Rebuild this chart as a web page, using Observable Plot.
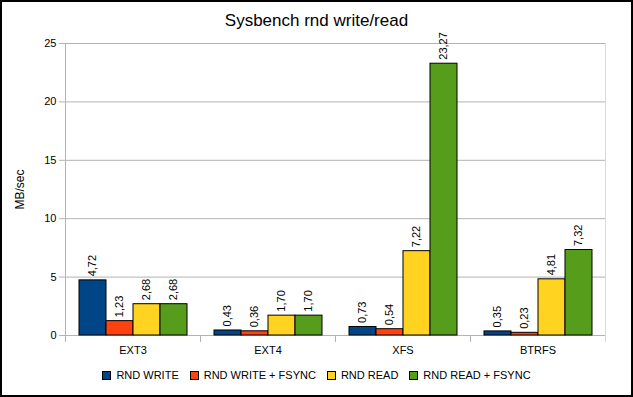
<!DOCTYPE html>
<html>
<head>
<meta charset="utf-8">
<script src="https://cdn.jsdelivr.net/npm/d3@7"></script>
<script src="https://cdn.jsdelivr.net/npm/@observablehq/plot@0.6"></script>
<style>
  body { margin: 0; background: #fff; font-family: "Liberation Sans", Arial, sans-serif; }
  #wrap { position: relative; width: 633px; height: 397px; overflow: hidden; background: #fff; }
  #border { position: absolute; left: 0; top: 0; width: 633px; height: 397px; border: 2px solid #000; box-sizing: border-box; pointer-events: none; }
  #title { position: absolute; left: 0; top: 11px; width: 633px; text-align: center; font-size: 17px; color: #000; }
  #chart { position: absolute; left: 0; top: 32px; }
  #legend { position: absolute; left: 0; top: 369px; width: 633px; display: flex; justify-content: center; gap: 11px; font-size: 11px; color: #000; }
  .item { display: flex; align-items: center; gap: 5px; }
  .sw { width: 9px; height: 9px; border: 1px solid #000; box-sizing: border-box; }
</style>
</head>
<body>
<div id="wrap">
  <div id="title">Sysbench rnd write/read</div>
  <div id="chart"></div>
  <div id="legend"></div>
  <div id="border"></div>
</div>
<script>
const categories = ["EXT3", "EXT4", "XFS", "BTRFS"];
const seriesNames = ["RND WRITE", "RND WRITE + FSYNC", "RND READ", "RND READ + FSYNC"];
const colors = ["#004586", "#ff420e", "#ffd320", "#579d1c"];
const rndWrite = [4.72, 0.43, 0.73, 0.35];
const rndWriteFsync = [1.23, 0.36, 0.54, 0.23];
const rndRead = [2.68, 1.70, 7.22, 4.81];
const rndReadFsync = [2.68, 1.70, 23.27, 7.32];
const yTicks = [0, 5, 10, 15, 20, 25];

const seriesValues = [rndWrite, rndWriteFsync, rndRead, rndReadFsync];
const data = [];
categories.forEach((c, i) => {
  seriesNames.forEach((s, j) => data.push({ cat: c, series: s, value: seriesValues[j][i] }));
});
const fmt = v => v.toFixed(2).replace(".", ",");

const chart = Plot.plot({
  width: 633,
  height: 330,
  marginLeft: 64,
  marginRight: 27,
  marginTop: 11,
  marginBottom: 27,
  style: { fontFamily: "Liberation Sans, Arial, sans-serif", fontSize: "11px", color: "#000", background: "transparent" },
  fx: { domain: categories, padding: 0, label: null },
  x: { domain: seriesNames, paddingInner: 0, paddingOuter: 0.5, axis: null },
  y: { domain: [0, 25], ticks: yTicks },
  color: { domain: seriesNames, range: colors },
  marks: [
    Plot.gridY(yTicks, { stroke: "#b3b3b3", strokeOpacity: 1 }),
    Plot.frame({ anchor: "left", facet: "super", stroke: "#b3b3b3", strokeOpacity: 1 }),
    Plot.frame({ anchor: "right", facet: "super", stroke: "#d9d9d9", strokeOpacity: 1, insetBottom: -6 }),
    Plot.frame({ anchor: "left", stroke: "#b3b3b3", strokeOpacity: 1, insetTop: 292, insetBottom: -6 }),
    Plot.axisY(yTicks, { tickSize: 6, tickPadding: 3, stroke: "#b3b3b3", label: null, tickFormat: d => d }),
    Plot.axisY([], { label: "MB/sec", labelAnchor: "center", labelArrow: "none", labelOffset: 50, fontSize: 12 }),
    Plot.axisFx({ anchor: "bottom", tickSize: 0, tickPadding: 11, label: null }),
    Plot.barY(data, { fx: "cat", x: "series", y: "value", fill: "series", stroke: "#000", strokeWidth: 1 }),
    Plot.text(data, { fx: "cat", x: "series", y: "value", text: d => fmt(d.value), rotate: -90, textAnchor: "start", lineAnchor: "middle", dy: -4, dx: -1, fill: "#000", fontSize: 11 })
  ]
});
document.getElementById("chart").appendChild(chart);

const legend = document.getElementById("legend");
seriesNames.forEach((s, i) => {
  const it = document.createElement("div");
  it.className = "item";
  const sw = document.createElement("div");
  sw.className = "sw";
  sw.style.background = colors[i];
  const t = document.createElement("span");
  t.textContent = s;
  it.appendChild(sw);
  it.appendChild(t);
  legend.appendChild(it);
});
</script>
</body>
</html>
